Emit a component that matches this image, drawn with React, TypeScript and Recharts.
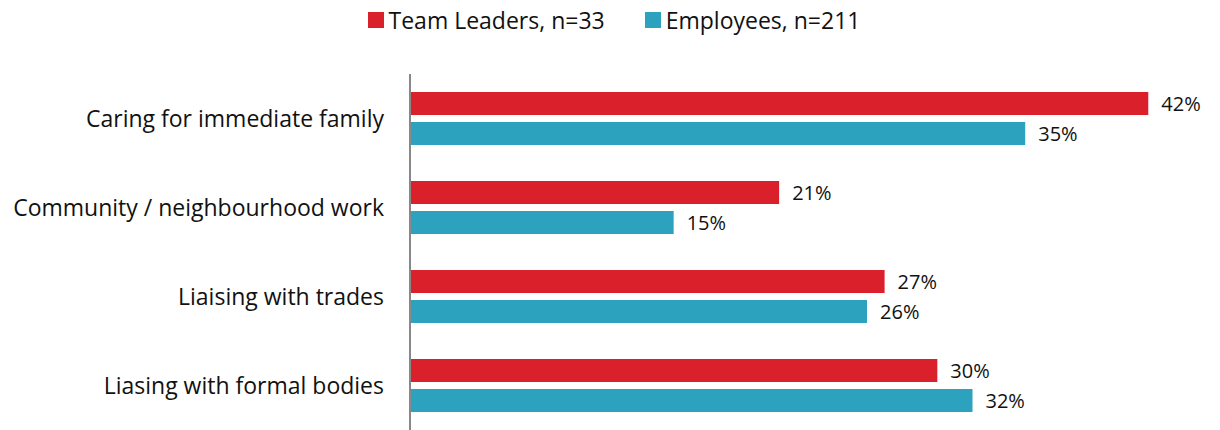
import React from "react";
import { BarChart, Bar, XAxis, YAxis, LabelList } from "recharts";

const categories = [
  "Caring for immediate family",
  "Community / neighbourhood work",
  "Liaising with trades",
  "Liasing with formal bodies",
];
const teamLeaders = [42, 21, 27, 30];
const employees = [35, 15, 26, 32];

const series = [
  { key: "leaders", name: "Team Leaders, n=33", color: "#DA202A" },
  { key: "employees", name: "Employees, n=211", color: "#2CA2BF" },
];

const data = categories.map((c, i) => ({
  category: c,
  leaders: teamLeaders[i],
  employees: employees[i],
}));

const FONT = "'Open Sans', sans-serif";
const FS = 23;

const LegendBox = () => (
  <div
    style={{
      position: "absolute",
      top: 6,
      left: 4,
      width: 1220,
      display: "flex",
      justifyContent: "center",
      fontFamily: FONT,
      fontSize: FS,
      color: "#111",
      lineHeight: "28px",
    }}
  >
    {series.map((s, i) => (
      <div key={s.key} style={{ display: "flex", alignItems: "center", marginLeft: i ? 40 : 0 }}>
        <span style={{ width: 16, height: 16, background: s.color, display: "inline-block", marginRight: 5 }} />
        <span>{s.name}</span>
      </div>
    ))}
  </div>
);

const App: React.FC = () => {
  return (
    <div style={{ position: "absolute", left: 0, top: 0, width: 1220, height: 430, background: "#fff" }}>
      <BarChart
        width={1220}
        height={430}
        data={data}
        layout="vertical"
        margin={{ top: 74, right: 19, bottom: 0, left: 0 }}
        barSize={23}
        barGap={7}
      >
        <XAxis type="number" domain={[0, 45]} hide />
        <YAxis
          type="category"
          dataKey="category"
          width={410}
          tickLine={false}
          tickMargin={20}
          axisLine={{ stroke: "#888", strokeWidth: 2 }}
          tick={{ fill: "#111", fontSize: FS, fontFamily: FONT }}
        />
        {series.map((s) => (
          <Bar key={s.key} dataKey={s.key} name={s.name} fill={s.color} isAnimationActive={false}>
            <LabelList
              dataKey={s.key}
              position="right"
              offset={13}
              formatter={(v: number) => `${v}%`}
              style={{ fill: "#111", fontSize: 20, fontFamily: FONT }}
            />
          </Bar>
        ))}
      </BarChart>
      <LegendBox />
    </div>
  );
};

export default App;
